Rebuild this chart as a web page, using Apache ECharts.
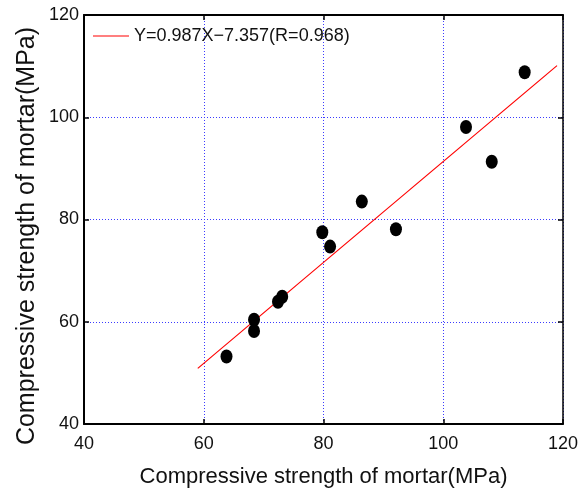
<!DOCTYPE html>
<html>
<head>
<meta charset="utf-8">
<script src="https://cdn.jsdelivr.net/npm/echarts@6/dist/echarts.min.js"></script>
<style>
  html, body { margin: 0; padding: 0; background: #fff; }
  #chart { width: 586px; height: 493px; }
</style>
</head>
<body>
<div id="chart"></div>
<script>
// Mortar compressive strength pairs (MPa)
var mortarX = [63.8, 68.4, 68.4, 72.4, 73.1, 79.8, 81.1, 86.4, 92.1, 103.8, 108.1, 113.6];
var mortarY = [53.2, 60.4, 58.2, 63.9, 64.9, 77.5, 74.7, 83.5, 78.1, 98.1, 91.3, 108.8];

// Linear fit as stated in the legend
var fitSlope = 0.987;
var fitIntercept = -7.357;
var fitRange = [59, 119];
var fitLabel = 'Y=0.987X\u22127.357(R=0.968)';

// Axis ranges and ticks
var axisMin = 40, axisMax = 120, axisStep = 20;

var points = mortarX.map(function (x, i) { return [x, mortarY[i]]; });
var fitLine = fitRange.map(function (x) { return [x, fitSlope * x + fitIntercept]; });

var FONT = '"Liberation Sans", Arial, sans-serif';
var INK = '#111';

function makeAxis(pos, showLabels, lineWidth) {
  return {
    type: 'value',
    position: pos,
    min: axisMin, max: axisMax, interval: axisStep,
    axisLine: { show: true, onZero: false, lineStyle: { color: '#000', width: lineWidth } },
    axisTick: { show: true, inside: true, length: 5, lineStyle: { color: '#000', width: 1.5 } },
    axisLabel: { show: showLabels, color: INK, fontSize: 18, fontFamily: FONT,
                 margin: (pos === 'bottom' ? 11 : 5) },
    splitLine: { show: showLabels, lineStyle: { color: '#3b3bff', width: 1, type: [1, 2] } }
  };
}

var chart = echarts.init(document.getElementById('chart'));
chart.setOption({
  animation: false,
  backgroundColor: '#fff',
  grid: { left: 84, right: 23, top: 15, bottom: 66 },
  xAxis: [
    Object.assign(makeAxis('bottom', true, 2), {
      name: 'Compressive strength of mortar(MPa)',
      nameLocation: 'middle', nameGap: 42,
      nameTextStyle: { color: INK, fontSize: 22, fontFamily: FONT }
    }),
    makeAxis('top', false, 2)
  ],
  yAxis: [
    makeAxis('left', true, 2),
    makeAxis('right', false, 1.5)
  ],
  legend: {
    left: 88, top: 22,
    itemWidth: 36, itemHeight: 1.2, itemGap: 6,
    textStyle: { color: INK, fontSize: 18, fontFamily: FONT },
    data: [{ name: fitLabel, icon: 'rect' }]
  },
  graphic: [{
    type: 'text',
    x: 27, y: 236,
    rotation: Math.PI / 2,
    style: {
      text: 'Compressive strength of mortar(MPa)',
      fill: INK,
      font: '25px ' + FONT,
      textAlign: 'center',
      textVerticalAlign: 'middle'
    }
  }],
  series: [
    {
      name: fitLabel,
      type: 'line',
      data: fitLine,
      symbol: 'none',
      itemStyle: { color: '#ff0000' },
      lineStyle: { color: '#ff0000', width: 1.2 },
      z: 3
    },
    {
      name: 'data',
      type: 'scatter',
      data: points,
      symbol: 'circle',
      symbolSize: [12, 14],
      itemStyle: { color: '#000', opacity: 1 },
      z: 4
    }
  ]
});
</script>
</body>
</html>
